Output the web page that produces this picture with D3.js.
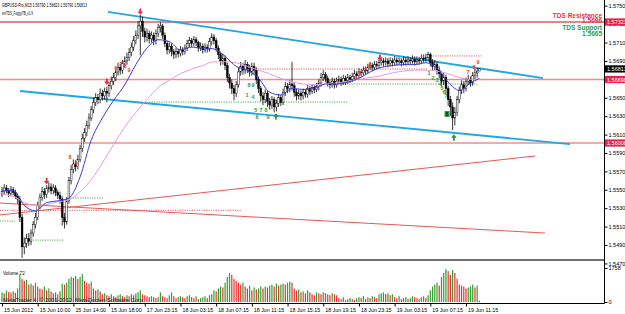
<!DOCTYPE html>
<html><head><meta charset="utf-8">
<script src="https://cdn.jsdelivr.net/npm/d3@7"></script>
<style>
body{margin:0;background:#fff}
text{font-family:"Liberation Sans",Arial,sans-serif}
</style></head><body>
<svg id="chart" width="625" height="314"></svg>
<script>
// GBPUSD M15 bars (open of each bar = previous close)
var open0 = 1.5545;
var closes = [
1.5548,1.5552,1.5549,1.5546,1.5550,1.5547,1.5543,1.5540,1.5520,1.5488,
1.5492,1.5497,1.5494,1.5503,1.5512,1.5520,1.5533,1.5542,1.5548,1.5545,
1.5551,1.5553,1.5549,1.5552,1.5547,1.5544,1.5540,1.5520,1.5515,1.5538,
1.5560,1.5572,1.5578,1.5575,1.5583,1.5595,1.5606,1.5612,1.5620,1.5628,
1.5637,1.5645,1.5650,1.5648,1.5655,1.5652,1.5657,1.5655,1.5663,1.5668,
1.5672,1.5678,1.5683,1.5680,1.5687,1.5690,1.5694,1.5699,1.5705,1.5712,
1.5718,1.5728,1.5733,1.5722,1.5716,1.5720,1.5714,1.5718,1.5712,1.5720,
1.5726,1.5728,1.5718,1.5709,1.5702,1.5706,1.5700,1.5697,1.5700,1.5698,
1.5702,1.5700,1.5704,1.5709,1.5712,1.5709,1.5713,1.5710,1.5704,1.5706,
1.5702,1.5705,1.5703,1.5711,1.5716,1.5712,1.5704,1.5697,1.5690,1.5693,
1.5685,1.5672,1.5666,1.5660,1.5655,1.5664,1.5678,1.5684,1.5680,1.5686,
1.5682,1.5678,1.5684,1.5680,1.5670,1.5660,1.5652,1.5648,1.5655,1.5646,
1.5642,1.5648,1.5640,1.5644,1.5650,1.5645,1.5656,1.5662,1.5660,1.5665,
1.5663,1.5656,1.5652,1.5655,1.5652,1.5656,1.5654,1.5660,1.5657,1.5661,
1.5659,1.5662,1.5666,1.5672,1.5675,1.5671,1.5666,1.5664,1.5668,1.5664,
1.5668,1.5670,1.5667,1.5671,1.5668,1.5672,1.5670,1.5673,1.5676,1.5674,
1.5678,1.5677,1.5680,1.5679,1.5683,1.5685,1.5683,1.5686,1.5685,1.5688,
1.5690,1.5688,1.5690,1.5687,1.5690,1.5688,1.5691,1.5689,1.5690,1.5688,
1.5691,1.5689,1.5691,1.5690,1.5692,1.5689,1.5691,1.5690,1.5693,1.5692,
1.5694,1.5697,1.5688,1.5684,1.5686,1.5680,1.5676,1.5668,1.5672,1.5660,
1.5648,1.5640,1.5628,1.5634,1.5648,1.5658,1.5664,1.5660,1.5668,1.5670,
1.5666,1.5674,1.5677,1.5679,1.56813];
var highs = [
1.5553,1.5556,1.5555,1.5552,1.5554,1.5553,1.5550,1.5546,1.5543,1.5524,
1.5498,1.5502,1.5503,1.5507,1.5516,1.5525,1.5537,1.5546,1.5553,1.5552,
1.5555,1.5558,1.5557,1.5556,1.5555,1.5550,1.5548,1.5543,1.5525,1.5542,
1.5564,1.5577,1.5583,1.5582,1.5588,1.5599,1.5611,1.5617,1.5625,1.5633,
1.5641,1.5650,1.5655,1.5654,1.5660,1.5659,1.5661,1.5662,1.5667,1.5673,
1.5677,1.5682,1.5688,1.5687,1.5691,1.5695,1.5699,1.5704,1.5710,1.5717,
1.5723,1.5733,1.5740,1.5738,1.5726,1.5725,1.5723,1.5722,1.5721,1.5724,
1.5730,1.5732,1.5730,1.5721,1.5712,1.5710,1.5709,1.5703,1.5704,1.5703,
1.5706,1.5705,1.5708,1.5713,1.5716,1.5715,1.5717,1.5716,1.5712,1.5710,
1.5709,1.5709,1.5708,1.5715,1.5720,1.5719,1.5715,1.5707,1.5700,1.5698,
1.5696,1.5688,1.5676,1.5670,1.5664,1.5668,1.5683,1.5689,1.5688,1.5691,
1.5689,1.5686,1.5688,1.5688,1.5683,1.5673,1.5663,1.5656,1.5659,1.5658,
1.5650,1.5652,1.5651,1.5648,1.5654,1.5653,1.5660,1.5667,1.5666,1.5669,
1.5689,1.5667,1.5660,1.5659,1.5658,1.5660,1.5659,1.5664,1.5663,1.5665,
1.5664,1.5666,1.5670,1.5677,1.5680,1.5678,1.5674,1.5669,1.5672,1.5671,
1.5672,1.5674,1.5673,1.5675,1.5674,1.5676,1.5675,1.5677,1.5680,1.5679,
1.5682,1.5681,1.5684,1.5684,1.5687,1.5689,1.5688,1.5690,1.5690,1.5692,
1.5694,1.5693,1.5694,1.5693,1.5694,1.5693,1.5695,1.5694,1.5694,1.5693,
1.5695,1.5694,1.5695,1.5694,1.5696,1.5695,1.5695,1.5694,1.5697,1.5697,
1.5698,1.5700,1.5699,1.5692,1.5691,1.5689,1.5684,1.5679,1.5677,1.5675,
1.5663,1.5652,1.5645,1.5640,1.5652,1.5662,1.5669,1.5668,1.5672,1.5675,
1.5673,1.5678,1.5682,1.5682,1.56823];
var lows = [
1.5542,1.5545,1.5546,1.5542,1.5543,1.5544,1.5540,1.5535,1.5515,1.5476,
1.5480,1.5487,1.5489,1.5490,1.5499,1.5508,1.5517,1.5529,1.5538,1.5540,
1.5541,1.5547,1.5545,1.5545,1.5543,1.5540,1.5535,1.5511,1.5508,1.5512,
1.5535,1.5556,1.5568,1.5570,1.5572,1.5580,1.5591,1.5602,1.5608,1.5616,
1.5625,1.5633,1.5641,1.5643,1.5644,1.5647,1.5648,1.5645,1.5651,1.5659,
1.5664,1.5668,1.5674,1.5675,1.5676,1.5683,1.5686,1.5690,1.5695,1.5701,
1.5708,1.5714,1.5696,1.5716,1.5710,1.5711,1.5709,1.5710,1.5707,1.5708,
1.5716,1.5721,1.5714,1.5705,1.5697,1.5698,1.5695,1.5692,1.5693,1.5694,
1.5695,1.5696,1.5697,1.5701,1.5705,1.5705,1.5706,1.5706,1.5700,1.5701,
1.5698,1.5699,1.5699,1.5700,1.5707,1.5708,1.5700,1.5692,1.5685,1.5686,
1.5680,1.5667,1.5660,1.5654,1.5647,1.5651,1.5661,1.5674,1.5675,1.5676,
1.5677,1.5673,1.5674,1.5675,1.5665,1.5655,1.5646,1.5642,1.5644,1.5640,
1.5637,1.5638,1.5634,1.5635,1.5640,1.5641,1.5642,1.5652,1.5655,1.5656,
1.5658,1.5651,1.5647,1.5648,1.5647,1.5648,1.5650,1.5650,1.5653,1.5654,
1.5655,1.5656,1.5658,1.5662,1.5668,1.5667,1.5662,1.5660,1.5661,1.5660,
1.5661,1.5665,1.5663,1.5664,1.5664,1.5665,1.5666,1.5667,1.5670,1.5670,
1.5671,1.5673,1.5674,1.5675,1.5676,1.5680,1.5679,1.5680,1.5681,1.5682,
1.5685,1.5684,1.5685,1.5683,1.5684,1.5684,1.5685,1.5685,1.5686,1.5684,
1.5685,1.5685,1.5686,1.5686,1.5687,1.5685,1.5686,1.5686,1.5687,1.5688,
1.5689,1.5690,1.5684,1.5679,1.5680,1.5675,1.5671,1.5663,1.5664,1.5654,
1.5641,1.5630,1.5615,1.5620,1.5630,1.5644,1.5654,1.5655,1.5657,1.5664,
1.5662,1.5663,1.5670,1.5672,1.5679];
var volumes = [
500,450,600,520,480,550,480,700,1450,1200,
1100,1150,900,950,850,1000,800,700,650,800,
600,700,550,450,500,400,550,950,900,1000,
1200,1300,1250,1350,1200,1300,1450,1100,1000,950,
1050,700,600,650,550,400,450,350,300,400,
300,250,350,400,300,250,350,300,400,350,
450,500,600,400,350,300,250,300,250,200,
250,500,300,250,200,350,500,300,200,250,
300,250,200,300,350,250,200,300,150,200,
250,300,200,350,400,600,550,700,800,750,
1000,1300,1500,1400,1200,1100,1000,900,1000,800,
700,850,600,750,650,700,800,700,800,750,
850,900,800,950,850,900,950,900,1000,1050,
1000,700,600,650,500,550,450,600,500,400,
350,500,450,400,500,450,400,350,450,400,
350,200,150,250,100,150,200,150,100,200,
250,200,300,150,250,200,300,250,200,400,
450,500,400,450,350,400,250,200,300,150,
200,250,150,200,300,250,200,150,250,300,
200,350,600,800,900,1000,850,1300,1500,1700,
1600,1400,1650,1500,1200,900,850,800,700,750,
800,900,750,850,72];

// moving averages read every 5th bar (last point = last bar)
var blueMA = [1.5549,1.5549,1.5533,1.5527,1.5536,1.5538,1.5541,1.5564,1.5604,1.5628,
  1.5647,1.5664,1.5686,1.5704,1.5713,1.5711,1.5702,1.5705,1.5704,1.5703,
  1.5695,1.5684,1.5680,1.5671,1.5656,1.5653,1.5660,1.5659,1.5660,1.5665,
  1.5665,1.5667,1.5671,1.5678,1.5683,1.5685,1.5686,1.5686,1.5688,1.5682,
  1.5667,1.5658,1.5666,1.5671];
var pinkMA = [1.5545,1.5543,1.5536,1.5533,1.5534,1.5537,1.5539,1.5548,1.5561,1.5579,
  1.5599,1.5618,1.5634,1.5648,1.5661,1.5669,1.5676,1.5681,1.5685,1.5689,
  1.5689,1.5688,1.5684,1.5680,1.5676,1.5671,1.5667,1.5665,1.5664,1.5665,
  1.5666,1.5668,1.5670,1.5672,1.5674,1.5677,1.5679,1.5680,1.5680,1.5679,
  1.5676,1.5672,1.5670,1.5670];

var timeLabels = ["15 Jun 2012","15 Jun 10:00","15 Jun 14:00","15 Jun 18:00","17 Jun 23:15",
  "18 Jun 03:15","18 Jun 07:15","18 Jun 11:15","18 Jun 15:15","18 Jun 19:15",
  "18 Jun 23:15","19 Jun 03:15","19 Jun 07:15","19 Jun 11:15"];
var priceTicks = [1.575,1.573,1.571,1.569,1.567,1.565,1.563,1.561,1.559,1.557,1.555,1.553,1.551,1.549,1.547];
var redLevels = [1.57323,1.56698,1.56008];

// trend lines: [bar1, price1, bar2, price2]
var channelLines = [[47.5,1.57432,242.5,1.56714],[8.1,1.56573,254.6,1.55997]];
var redLines = [[-1,1.55226,239,1.55867],[-1,1.55356,243.4,1.55030]];
var redDotted = [[-1,107,1.55277],[112.5,190.5,1.56812],[192,215,1.56954]];
var greenDotted = [[-1,5.8,1.55160],[11.7,27.3,1.54953],[29.6,45.3,1.55411],[66,155,1.56453],[147,213,1.56649]];

var downArrows = [[62,1.57431],[47,1.56670],[20,1.55590],[169.4,1.56932]];
var upArrows = [[122.8,1.56302],[202.6,1.56073]];
var tdRed = [[30.5,1.55856,"8"],[33.2,1.55791,"9"],[51.1,1.56823,"6"],[53.3,1.56867,"7"],[55.1,1.56845,"8"],[56.9,1.56801,"9"],
  [158.2,1.56714,"5"],[160.5,1.56769,"6"],[162.7,1.56801,"7"],[165,1.56856,"8"],
  [208.9,1.56780,"7"],[211.6,1.56834,"8"],[213.4,1.56888,"9"]];
var tdGreen = [[109.8,1.56530,"1"],[112.5,1.56508,"4"],[110.7,1.56638,"8"],[112.5,1.56638,"9"],
  [113.8,1.56367,"5"],[114.3,1.56291,"6"],[116.1,1.56367,"7"],[118.3,1.56367,"8"],[119.2,1.56291,"9"],
  [191.4,1.56769,"1"],[193.2,1.56714,"2"],[195,1.56693,"3"],[196.3,1.56649,"4"],[197.2,1.56606,"5"],
  [198.1,1.56562,"6"],[199,1.56519,"7"]];

var AX = 604, MAIN_BOTTOM = 258;
var svg = d3.select('#chart');
svg.append('rect').attr('width',625).attr('height',314).attr('fill','#fff');

var x = d3.scaleLinear().domain([0,214]).range([2,479.4]);
var y = d3.scaleLinear().domain([1.549,1.575]).range([245,5.7]);
var yv = d3.scaleLinear().domain([0,1758]).range([302,268]);

svg.append('clipPath').attr('id','mainclip').append('rect')
   .attr('x',0).attr('y',0).attr('width',AX).attr('height',MAIN_BOTTOM);
var main = svg.append('g').attr('clip-path','url(#mainclip)');

var seg = d3.line().x(function(d){ return x(d[0]); }).y(function(d){ return y(d[1]); });

// horizontal red levels
main.selectAll('.lvl').data(redLevels).enter().append('line')
    .attr('x1',0).attr('x2',AX)
    .attr('y1',function(d){ return y(d); }).attr('y2',function(d){ return y(d); })
    .attr('stroke',function(d,i){ return i == 0 ? '#e65a5a' : '#f28c8c'; })
    .attr('stroke-width',1.3);

// sloping red lines
main.selectAll('.rl').data(redLines).enter().append('path')
    .attr('d',function(d){ return seg([[d[0],d[1]],[d[2],d[3]]]); })
    .attr('stroke','#ee5555').attr('stroke-width',1).attr('fill','none');

main.selectAll('.rd').data(redDotted).enter().append('path')
    .attr('d',function(d){ return seg([[d[0],d[2]],[d[1],d[2]]]); })
    .attr('stroke','#e84848').attr('stroke-width',0.9).attr('stroke-dasharray','1.2,1.2').attr('fill','none');

main.selectAll('.gd').data(greenDotted).enter().append('path')
    .attr('d',function(d){ return seg([[d[0],d[2]],[d[1],d[2]]]); })
    .attr('stroke','#3aa63a').attr('stroke-width',0.9).attr('stroke-dasharray','1.2,1.2').attr('fill','none');

// channel
main.selectAll('.ch').data(channelLines).enter().append('path')
    .attr('d',function(d){ return seg([[d[0],d[1]],[d[2],d[3]]]); })
    .attr('stroke','#1fa6e6').attr('stroke-width',1.8).attr('fill','none');

// candles
var bars = closes.map(function(c,i){
    return { i: i, o: i == 0 ? open0 : closes[i-1], h: highs[i], l: lows[i], c: c };
});
var cg = main.append('g');
cg.selectAll('line').data(bars).enter().append('line')
    .attr('x1',function(d){ return x(d.i); }).attr('x2',function(d){ return x(d.i); })
    .attr('y1',function(d){ return y(d.h); }).attr('y2',function(d){ return y(d.l); })
    .attr('stroke','#000').attr('stroke-width',0.8);
cg.selectAll('rect').data(bars).enter().append('rect')
    .attr('x',function(d){ return x(d.i) - 0.9; }).attr('width',1.8)
    .attr('y',function(d){ return y(Math.max(d.o,d.c)); })
    .attr('height',function(d){ return Math.max(0.6, Math.abs(y(d.o) - y(d.c))); })
    .attr('fill',function(d){ return d.c >= d.o ? '#fff' : '#000'; })
    .attr('stroke','#000').attr('stroke-width',0.45);

// moving averages
var maBars = d3.range(0,211,5).concat([214]);
var maLine = d3.line().x(function(d,i){ return x(maBars[i]); }).y(function(d){ return y(d); }).curve(d3.curveMonotoneX);
main.append('path').attr('d',maLine(pinkMA)).attr('stroke','#e49ce0').attr('stroke-width',1).attr('fill','none');
main.append('path').attr('d',maLine(blueMA)).attr('stroke','#3c3cdc').attr('stroke-width',1).attr('fill','none');

// TD arrows and counts
var arrowPath = 'M-0.9,-3.6h1.8v3h1.9l-2.8,3.3l-2.8,-3.3h1.9z';
main.selectAll('.da').data(downArrows).enter().append('path')
    .attr('d',arrowPath).attr('fill','#e8283c')
    .attr('transform',function(d){ return 'translate(' + x(d[0]) + ',' + y(d[1]) + ')'; });
main.selectAll('.ua').data(upArrows).enter().append('path')
    .attr('d',arrowPath).attr('fill','#1f9a2f')
    .attr('transform',function(d){ return 'translate(' + x(d[0]) + ',' + y(d[1]) + ') rotate(180)'; });
main.selectAll('.tr').data(tdRed).enter().append('text')
    .attr('x',function(d){ return x(d[0]); }).attr('y',function(d){ return y(d[1]) + 2; })
    .attr('text-anchor','middle').attr('font-size',5.5).attr('font-weight','bold')
    .attr('fill','#e83a3a').text(function(d){ return d[2]; });
main.selectAll('.tg').data(tdGreen).enter().append('text')
    .attr('x',function(d){ return x(d[0]); }).attr('y',function(d){ return y(d[1]) + 2; })
    .attr('text-anchor','middle').attr('font-size',5.5).attr('font-weight','bold')
    .attr('fill','#2f9a3a').text(function(d){ return d[2]; });
main.append('rect').attr('x',x(199.5) - 2.5).attr('y',y(1.56323) - 3).attr('width',5).attr('height',6).attr('fill','#2e9e3e');
main.append('text').attr('x',x(199.5)).attr('y',y(1.56323) + 2).attr('text-anchor','middle')
    .attr('font-size',5.5).attr('font-weight','bold').attr('fill','#103010').text('8');

// volumes
svg.append('g').selectAll('rect').data(volumes).enter().append('rect')
    .attr('x',function(d,i){ return x(i) - 0.6; }).attr('width',1.2)
    .attr('y',function(d){ return yv(d); })
    .attr('height',function(d){ return yv(0) - yv(d); })
    .attr('fill',function(d,i){ return i > 0 && d < volumes[i-1] ? '#ee3030' : '#2ea02e'; });

// frames
svg.append('line').attr('x1',0).attr('x2',AX).attr('y1',260).attr('y2',260).attr('stroke','#707070').attr('stroke-width',2);
svg.append('line').attr('x1',0).attr('x2',AX + 0.5).attr('y1',303.5).attr('y2',303.5).attr('stroke','#000');
svg.append('line').attr('x1',AX + 0.5).attr('x2',AX + 0.5).attr('y1',0).attr('y2',303.5).attr('stroke','#000');

// price axis
var pAxis = d3.axisRight(y).tickValues(priceTicks).tickFormat(d3.format('.5f')).tickSize(3).tickPadding(1);
var pg = svg.append('g').attr('transform','translate(' + (AX + 0.5) + ',0)').call(pAxis);
var vAxis = d3.axisRight(yv).tickValues([0,1758]).tickFormat(d3.format('d')).tickSize(3).tickPadding(1);
var vg = svg.append('g').attr('transform','translate(' + (AX + 0.5) + ',0)').call(vAxis);
[pg, vg].forEach(function(g){
    g.select('.domain').remove();
    g.selectAll('text').attr('font-size',5.5).attr('fill','#000').attr('font-family','Liberation Sans, Arial');
    g.selectAll('line').attr('stroke','#000');
});

// level boxes on the axis
var boxes = redLevels.map(function(v){ return { v: v, fill: '#e8204a' }; })
    .concat([{ v: closes[closes.length-1], fill: '#000' }]);
var bg = svg.append('g').selectAll('g').data(boxes).enter().append('g')
    .attr('transform',function(d){ return 'translate(' + (AX + 1) + ',' + y(d.v) + ')'; });
bg.append('rect').attr('x',0).attr('y',-3.6).attr('width',22).attr('height',7.2).attr('fill',function(d){ return d.fill; });
bg.append('text').attr('x',2).attr('y',2).attr('font-size',5.5).attr('fill','#fff')
    .text(function(d){ return d3.format('.5f')(d.v); });

// time axis
var tAxis = d3.axisBottom(x).tickValues(timeLabels.map(function(d,i){ return i * 16; }))
    .tickFormat(function(d,i){ return timeLabels[i]; }).tickSize(3);
var tg = svg.append('g').attr('transform','translate(0,303.5)').call(tAxis);
tg.select('.domain').remove();
tg.selectAll('line').attr('stroke','#000');
tg.selectAll('text').attr('font-size',5.3).attr('fill','#000').attr('text-anchor','start')
  .attr('dx',1.5).attr('dy',0).attr('y',8).attr('font-family','Liberation Sans, Arial');

// texts
svg.append('text').attr('x',2).attr('y',7).attr('font-size',4.6).attr('textLength',85).attr('lengthAdjust','spacingAndGlyphs')
   .text('GBPUSD-Pro,M15  1.56790 1.56823 1.56790 1.56813');
svg.append('text').attr('x',2).attr('y',14.5).attr('font-size',4.6).attr('textLength',31).attr('lengthAdjust','spacingAndGlyphs')
   .text('smTDS_FoggyTB_v1.9');
svg.append('text').attr('x',3).attr('y',274.5).attr('font-size',4.6).text('Volume 72');
svg.append('text').attr('x',3).attr('y',301.5).attr('font-size',5.6).attr('fill','#202020')
   .text('MetaTrader 4, \u00a9 2001-2012, MetaQuotes Software Corp.');

var tds = [['TDS Resistance',17.5,'#e8383c'],['1.5696',22.8,'#e8383c'],['TDS Support',29.8,'#2e9e3e'],['1.5665',35.6,'#2e9e3e']];
svg.selectAll('.tds').data(tds).enter().append('text')
   .attr('x',602).attr('y',function(d){ return d[1]; }).attr('text-anchor','end')
   .attr('font-size',6.5).attr('font-weight','bold').attr('fill',function(d){ return d[2]; })
   .text(function(d){ return d[0]; });
</script>
</body></html>
